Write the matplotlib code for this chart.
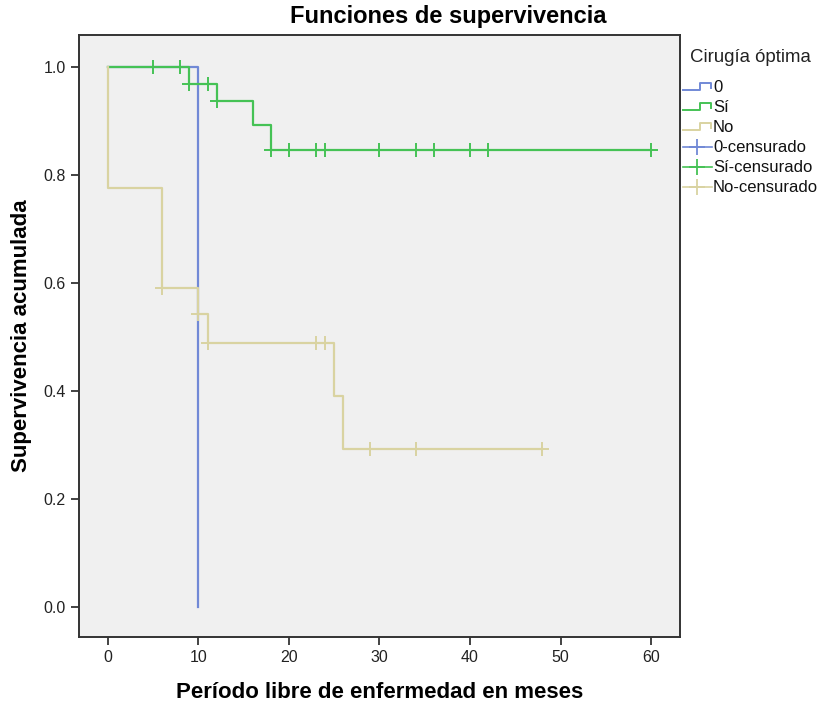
import matplotlib.pyplot as plt
from matplotlib.lines import Line2D
import numpy as np

plt.rcParams['font.family'] = ['Liberation Sans', 'DejaVu Sans']

# Curvas de Kaplan-Meier por grupo (tiempo de cada escalón, supervivencia)
grupos = ['0', 'Sí', 'No']
t_0 = [0, 10]
s_0 = [1.0, 0.0]
cens_0 = []

t_si = [0, 9, 12, 16, 18, 60]
s_si = [1.0, 0.968, 0.936, 0.892, 0.846, 0.846]
cens_si = [5, 8, 9, 11, 12, 18, 20, 23, 24, 30, 34, 36, 40, 42, 60]

t_no = [0, 0, 6, 10, 11, 25, 26, 48]
s_no = [1.0, 0.775, 0.591, 0.543, 0.489, 0.391, 0.293, 0.293]
cens_no = [6, 10, 11, 23, 24, 29, 34, 48]

colores = ['#7189d6', '#45c255', '#d9d3a1']

xticks = [0, 10, 20, 30, 40, 50, 60]
yticks = [0.0, 0.2, 0.4, 0.6, 0.8, 1.0]

W, H = 819, 705
fig = plt.figure(figsize=(W / 100, H / 100), dpi=100)
ax = fig.add_axes([79 / W, 1 - 637 / H, (680 - 79) / W, (637 - 35) / H])
ax.set_facecolor('#f0f0f0')


def surv_en(t, s, c):
    idx = np.searchsorted(t, c, side='right') - 1
    return np.array(s)[idx]


datos = [(t_0, s_0, cens_0), (t_si, s_si, cens_si), (t_no, s_no, cens_no)]
orden = [0, 2, 1]
for i in orden:
    t, s, c = datos[i]
    ax.step(t, s, where='post', color=colores[i], lw=1.6, zorder=2 + i)
    if len(c):
        ax.plot(c, surv_en(t, s, c), ls='none', marker='+', ms=10, mew=1.4,
                color=colores[i], zorder=2 + i)

ax.set_xlim(-3.2, 63.2)
ax.set_ylim(-0.056, 1.059)
ax.set_xticks(xticks)
ax.set_xticklabels([str(v) for v in xticks])
ax.set_yticks(yticks)
ax.set_yticklabels(['%.1f' % v for v in yticks])
ax.tick_params(direction='out', length=6, width=1.2, labelsize=11.5, colors='#222222')
for sp in ax.spines.values():
    sp.set_color('#333333')
    sp.set_linewidth(1.4)

ax.set_xlabel('Período libre de enfermedad en meses', fontsize=16, fontweight='bold',
              labelpad=12)
ax.set_ylabel('Supervivencia acumulada', fontsize=16, fontweight='bold', labelpad=8)
fig.text(448 / W, 1 - 17 / H, 'Funciones de supervivencia', ha='center', va='center',
         fontsize=17, fontweight='bold')

# Leyenda manual (estilo SPSS)
fig.text(690 / W, 1 - 57 / H, 'Cirugía óptima', ha='left', va='center', fontsize=13.4,
         color='#222222')
etiquetas = grupos + [g + '-censurado' for g in grupos]
for k, lab in enumerate(etiquetas):
    yc = 87 + 20 * k
    col = colores[k % 3]
    if k < 3:
        xs = np.array([683, 700, 700, 711, 711]) / W
        ys = 1 - np.array([yc + 3, yc + 3, yc - 4, yc - 4, yc + 1]) / H
        fig.add_artist(Line2D(xs, ys, color=col, lw=1.4))
    else:
        fig.add_artist(Line2D([683 / W, 712 / W], [1 - yc / H] * 2, color=col, lw=1.2))
        fig.add_artist(Line2D([697 / W], [1 - yc / H], color=col, marker='+', ms=12,
                              mew=1.3, ls='none'))
    fig.text(713 / W, 1 - yc / H, lab, ha='left', va='center', fontsize=12,
             color='#111111')

fig.savefig('out.png', dpi=100)
